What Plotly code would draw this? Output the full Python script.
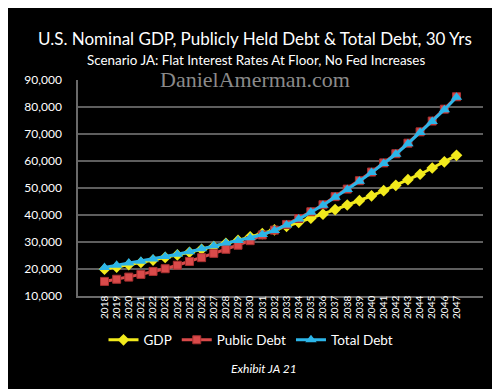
import plotly.graph_objects as go

years = [str(y) for y in range(2018, 2048)]
gdp = [19900, 20700, 21600, 22400, 23300, 24300, 25200, 26200, 27300, 28300,
       29500, 30600, 31900, 33100, 34500, 35800, 37300, 38800, 40300, 42000,
       43700, 45300, 47100, 49000, 51000, 53100, 55100, 57400, 59700, 62100]
public_debt = [15400, 16200, 17000, 18000, 19100, 20100, 21400, 22800, 24200, 25800,
               27300, 28800, 30500, 32600, 34400, 36500, 38700, 41200, 43800, 46800,
               49600, 52700, 55900, 59300, 62700, 66600, 70800, 74800, 79200, 83800]
total_debt = [20600, 21400, 22200, 22900, 23700, 24600, 25500, 26400, 27500, 28600,
              29600, 30600, 31600, 32800, 34300, 36300, 38500, 41000, 43600, 46600,
              49400, 52500, 55700, 59100, 62500, 66400, 70600, 74600, 79000, 83600]
y_ticks = [10000, 20000, 30000, 40000, 50000, 60000, 70000, 80000, 90000]

FONT = "Lato"
L, R, T, B = 70, 475, 72, 288


def px(x):
    return (x - L) / (R - L)


def py(y):
    return (B - y) / (B - T)


fig = go.Figure()
fig.add_trace(go.Scatter(x=years, y=gdp, name="GDP", mode="lines+markers",
                         line=dict(color="#f2ea1c", width=3),
                         marker=dict(symbol="diamond", size=9, color="#f2ea1c")))
fig.add_trace(go.Scatter(x=years, y=public_debt, name="Public Debt", mode="lines+markers",
                         line=dict(color="#d94a4a", width=3),
                         marker=dict(symbol="square", size=8, color="#d94a4a",
                                     line=dict(color="#a83030", width=1))))
fig.add_trace(go.Scatter(x=years, y=total_debt, name="Total Debt", mode="lines+markers",
                         line=dict(color="#2cb5e8", width=3),
                         marker=dict(symbol="triangle-up", size=10, color="#2cb5e8")))

fig.update_layout(
    width=500, height=389,
    paper_bgcolor="black", plot_bgcolor="black",
    margin=dict(l=L, r=500 - R, t=T, b=389 - B),
    font=dict(family=FONT, color="white"),
    showlegend=True,
    legend=dict(orientation="h", x=px(243), xanchor="center",
                y=py(332), yanchor="middle", font=dict(size=13.5, color="white"),
                bgcolor="rgba(0,0,0,0)", itemwidth=30, tracegroupgap=0),
    xaxis=dict(type="category", tickangle=-90, tickfont=dict(size=10, color="white"),
               showgrid=False, showline=True, linecolor="#6a6a6a", linewidth=1.5,
               ticks="", ticklen=0, ticklabelstandoff=-6),
    yaxis=dict(range=[10000, 90000], tickvals=y_ticks, tickformat=",d",
               tickfont=dict(size=12, color="white"), gridcolor="#5e5e5e", gridwidth=1.5,
               showline=True, linecolor="#6a6a6a", linewidth=1.5, zeroline=False,
               ticks="", ticklabelstandoff=12),
    annotations=[
        dict(text="U.S. Nominal GDP, Publicly Held Debt & Total Debt, 30 Yrs",
             xref="paper", yref="paper", x=px(247), y=py(30),
             xanchor="center", yanchor="middle", showarrow=False,
             font=dict(size=17, color="white", family=FONT)),
        dict(text="Scenario JA: Flat Interest Rates At Floor, No Fed Increases",
             xref="paper", yref="paper", x=px(247.5), y=py(52),
             xanchor="center", yanchor="middle", showarrow=False,
             font=dict(size=13.4, color="white", family=FONT)),
        dict(text="DanielAmerman.com",
             xref="paper", yref="paper", x=px(247), y=py(71),
             xanchor="center", yanchor="middle", showarrow=False,
             font=dict(size=22, color="#8a8a8a", family="Liberation Serif")),
        dict(text="<i>Exhibit JA 21</i>",
             xref="paper", yref="paper", x=px(256), y=py(360),
             xanchor="center", yanchor="middle", showarrow=False,
             font=dict(size=12, color="white", family=FONT)),
    ],
)
fig.write_html("out.html")
